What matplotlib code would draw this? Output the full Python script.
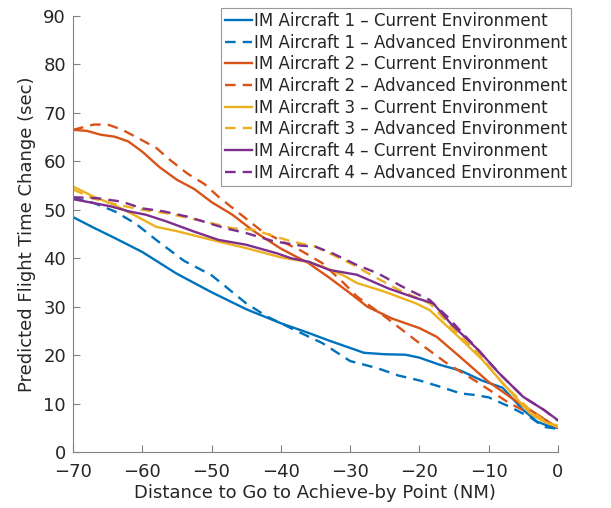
import matplotlib
matplotlib.use("Agg")
import matplotlib.pyplot as plt

# data (distance to go in NM, flight time change in sec)
ac1_cur_x = [-70, -67, -64, -60, -55, -50, -45, -40, -36, -33, -30, -28, -25, -22, -20, -17, -14, -11, -8, -5, -3, -1, 0]
ac1_cur_y = [48.5, 46.3, 44.2, 41.3, 36.8, 33.0, 29.5, 26.6, 24.6, 23.0, 21.5, 20.5, 20.2, 20.1, 19.5, 18.0, 16.8, 14.8, 13.3, 8.7, 6.3, 5.2, 5.0]
ac1_adv_x = [-70, -67, -64, -61, -58, -54, -50, -48, -45, -42, -38, -34, -30, -26, -23, -20, -17, -14, -12, -10, -7, -4, -2, 0]
ac1_adv_y = [52.5, 51.4, 49.7, 47.2, 43.8, 39.5, 36.5, 34.2, 30.7, 28.0, 25.2, 22.5, 18.8, 17.3, 15.8, 14.8, 13.5, 12.1, 11.8, 11.3, 9.4, 7.2, 5.2, 4.8]

ac2_cur_x = [-70, -68, -66, -64, -62, -60, -57.5, -55, -52.5, -50, -47, -44, -40, -36, -33, -30, -27.5, -24, -20, -17.5, -14, -10, -6, -3, 0]
ac2_cur_y = [66.5, 66.3, 65.5, 65.1, 64.1, 62.0, 58.8, 56.2, 54.3, 51.6, 49.0, 45.7, 42.0, 39.0, 36.0, 32.8, 30.0, 27.6, 25.6, 23.8, 19.5, 14.5, 10.5, 7.8, 5.0]
ac2_adv_x = [-70, -67, -65, -63, -61, -58, -56, -53.5, -51, -49, -46, -43, -40, -37, -34, -31, -29, -25, -20, -16, -12, -7, -3, 0]
ac2_adv_y = [66.5, 67.6, 67.6, 66.6, 65.1, 62.8, 60.3, 57.5, 55.3, 52.7, 49.3, 45.9, 43.6, 41.5, 39.0, 35.0, 32.1, 28.0, 22.5, 18.3, 14.8, 10.1, 7.2, 5.0]

ac3_cur_x = [-70, -67, -64, -61, -58, -55, -50, -45, -40, -36, -34, -31, -29, -25, -20.5, -18.5, -14.5, -11, -7.5, -4, -2, 0]
ac3_cur_y = [54.8, 52.7, 51.0, 48.8, 46.5, 45.6, 43.8, 42.1, 40.2, 39.2, 38.3, 36.5, 34.9, 33.1, 30.7, 29.3, 24.0, 19.2, 13.5, 8.0, 6.3, 5.2]
ac3_adv_x = [-70, -67, -64, -60, -56.5, -51, -47, -44, -38.5, -35, -30, -26.5, -23, -18.5, -14.5, -11.5, -8, -4, -1.5, 0]
ac3_adv_y = [54.2, 52.3, 51.2, 50.0, 49.3, 47.6, 46.2, 45.9, 43.5, 42.4, 39.0, 36.2, 33.5, 30.7, 24.5, 20.4, 14.2, 8.7, 6.0, 5.5]

ac4_cur_x = [-70, -67, -64.5, -62, -59.5, -56.5, -52.5, -49, -45, -40.5, -38.5, -36, -33, -29, -24.5, -20.5, -18, -15.5, -11.5, -8.5, -5, -2, 0]
ac4_cur_y = [52.2, 51.4, 50.7, 49.7, 49.0, 47.6, 45.5, 43.8, 42.8, 41.0, 40.0, 39.3, 37.6, 36.6, 33.8, 31.8, 30.7, 26.6, 21.1, 16.3, 11.4, 8.7, 6.6]
ac4_adv_x = [-70, -66.5, -63, -60, -57, -53.5, -48, -45, -41, -37, -35, -32.5, -29, -26, -22, -18.5, -16, -11.5, -8.5, -5, -2, 0]
ac4_adv_y = [52.6, 52.4, 51.7, 50.3, 49.7, 48.6, 46.2, 45.2, 43.5, 42.6, 42.4, 41.0, 38.6, 36.9, 33.8, 31.4, 28.0, 21.1, 16.3, 11.4, 8.7, 6.5]

colors = ['#0072BD', '#D95319', '#EDB120', '#7E2F8E']
series = [
    (ac1_cur_x, ac1_cur_y, ac1_adv_x, ac1_adv_y),
    (ac2_cur_x, ac2_cur_y, ac2_adv_x, ac2_adv_y),
    (ac3_cur_x, ac3_cur_y, ac3_adv_x, ac3_adv_y),
    (ac4_cur_x, ac4_cur_y, ac4_adv_x, ac4_adv_y),
]
xticks = [-70, -60, -50, -40, -30, -20, -10, 0]
yticks = [0, 10, 20, 30, 40, 50, 60, 70, 80, 90]

plt.rcParams['font.family'] = ['DejaVu Sans']
txt = '#262626'

fig = plt.figure(figsize=(6.11, 5.08), dpi=100)
ax = fig.add_axes([0.1195, 0.110, 0.7935, 0.8585])

for i, (cx, cy, ax_, ay) in enumerate(series):
    ax.plot(cx, cy, color=colors[i], lw=1.7, label='IM Aircraft %d – Current Environment' % (i + 1))
    ax.plot(ax_, ay, color=colors[i], lw=1.7, ls=(0, (4.5, 3)),
            label='IM Aircraft %d – Advanced Environment' % (i + 1))

ax.set_xlim(-70, 0)
ax.set_ylim(0, 90)
ax.set_xticks(xticks)
ax.set_yticks(yticks)
ax.set_xticklabels(['\u221270', '\u221260', '\u221250', '\u221240', '\u221230', '\u221220', '\u221210', '0'])
for s in ['top', 'right']:
    ax.spines[s].set_visible(False)
for s in ['left', 'bottom']:
    ax.spines[s].set_color('#808080')
    ax.spines[s].set_linewidth(0.8)
ax.tick_params(direction='in', length=5, color='#808080', labelsize=13, labelcolor=txt)
ax.tick_params(axis='x', pad=8)
ax.tick_params(axis='y', pad=5)
ax.set_xlabel('Distance to Go to Achieve-by Point (NM)', fontsize=13, color=txt, labelpad=2)
ax.set_ylabel('Predicted Flight Time Change (sec)', fontsize=13, color=txt, labelpad=5)

leg = ax.legend(loc='upper right', bbox_to_anchor=(1.028, 1.019), fontsize=12,
                handlelength=1.6, handletextpad=0.12, borderpad=0.25, labelspacing=0.22,
                borderaxespad=0, fancybox=False, framealpha=1, edgecolor='#999999')
leg.get_frame().set_linewidth(0.8)
for t in leg.get_texts():
    t.set_color(txt)

fig.savefig('out.png', dpi=100)
